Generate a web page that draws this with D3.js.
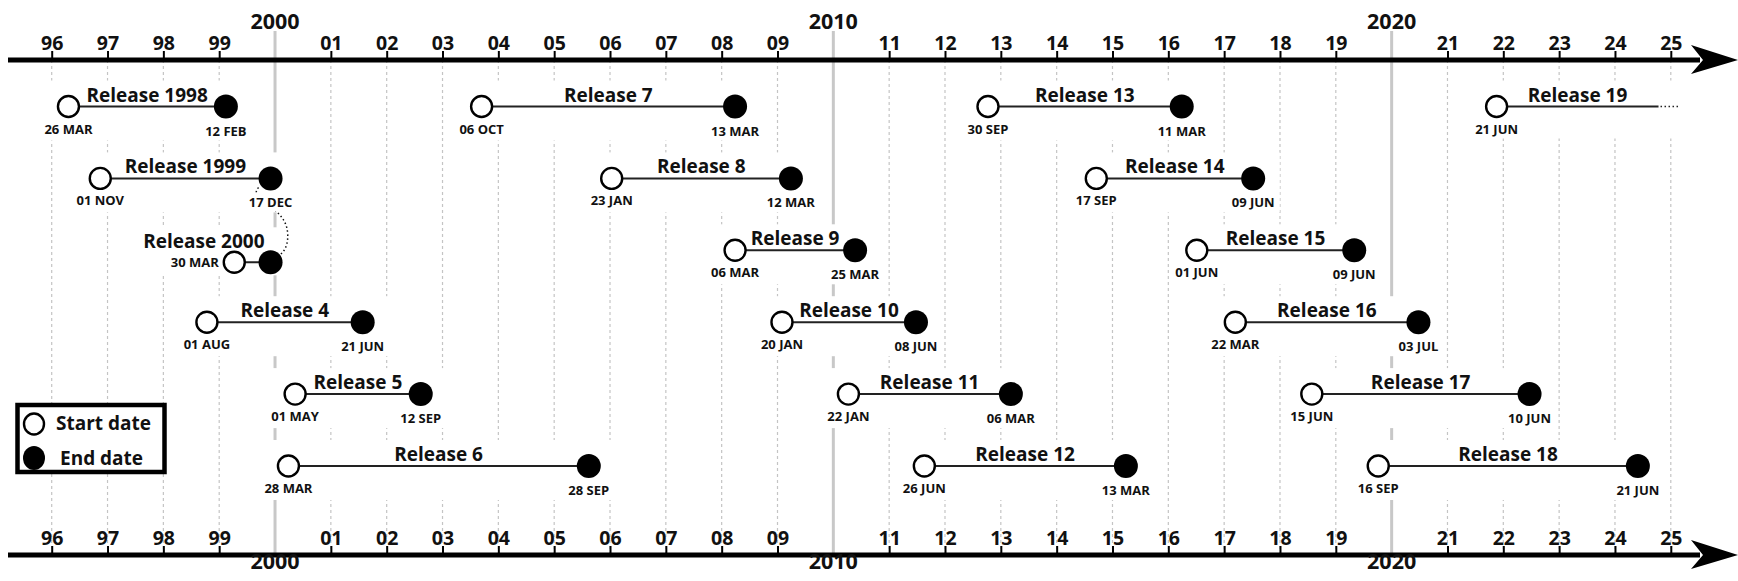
<!DOCTYPE html>
<html>
<head>
<meta charset="utf-8">
<script src="https://cdn.jsdelivr.net/npm/d3@7"></script>
<style>
  body { margin: 0; background: #fff; }
  svg { display: block; font-family: "Open Sans", Lato, sans-serif; font-weight: bold; }
</style>
</head>
<body>
<script>
const width = 1738, height = 581;

// year ticks on both axes
const years = d3.range(1996, 2026);
const decades = [2000, 2010, 2020];

// releases, positions
const releaseNames = ["Release 1998", "Release 1999", "Release 2000", "Release 4", "Release 5", "Release 6",
  "Release 7", "Release 8", "Release 9", "Release 10", "Release 11", "Release 12",
  "Release 13", "Release 14", "Release 15", "Release 16", "Release 17", "Release 18", "Release 19"];
const startYears = [1996.30, 1996.87, 1999.27, 1998.78, 2000.36, 2000.24,
  2003.70, 2006.03, 2008.24, 2009.08, 2010.27, 2011.63,
  2012.77, 2014.71, 2016.51, 2017.20, 2018.57, 2019.76, 2021.88];
const endYears = [1999.12, 1999.92, 1999.92, 2001.57, 2002.61, 2005.62,
  2008.24, 2009.24, 2010.39, 2011.48, 2013.18, 2015.24,
  2016.24, 2017.52, 2019.33, 2020.48, 2022.47, 2024.41, 2024.78];
const startLabels = ["26 MAR", "01 NOV", "30 MAR", "01 AUG", "01 MAY", "28 MAR",
  "06 OCT", "23 JAN", "06 MAR", "20 JAN", "22 JAN", "26 JUN",
  "30 SEP", "17 SEP", "01 JUN", "22 MAR", "15 JUN", "16 SEP", "21 JUN"];
const endLabels = ["12 FEB", "17 DEC", null, "21 JUN", "12 SEP", "28 SEP",
  "13 MAR", "12 MAR", "25 MAR", "08 JUN", "06 MAR", "13 MAR",
  "11 MAR", "09 JUN", "09 JUN", "03 JUL", "10 JUN", "21 JUN", null];
const lanes = [0, 1, 2, 3, 4, 5, 0, 1, 2, 3, 4, 5, 0, 1, 2, 3, 4, 5, 0];
const ongoing = [false, false, false, false, false, false, false, false, false, false,
  false, false, false, false, false, false, false, false, true];

const legendLabels = ["Start date", "End date"];

const releases = releaseNames.map((name, i) => ({
  name: name, start: startYears[i], end: endYears[i],
  startLabel: startLabels[i], endLabel: endLabels[i],
  lane: lanes[i], ongoing: ongoing[i]
}));

const x = d3.scaleLinear().domain([1996, 2025]).range([51.7, 1670.8]);
const y = d3.scaleLinear().domain([0, 5]).range([106.5, 466]);

const topY = 60, bottomY = 555;
const rStart = 10.5, rEnd = 12;
const ink = "#111";

const svg = d3.select("body").append("svg")
    .attr("width", width)
    .attr("height", height);

// grid: dashed yearly lines, solid grey decade lines
const grid = svg.append("g");
grid.selectAll("line.year")
  .data(years.filter(d => !decades.includes(d)))
  .join("line")
    .attr("x1", d => x(d)).attr("x2", d => x(d))
    .attr("y1", topY).attr("y2", bottomY)
    .attr("stroke", "#c4c4c4")
    .attr("stroke-width", 1.2)
    .attr("stroke-dasharray", "3,3");
grid.selectAll("line.decade")
  .data(decades)
  .join("line")
    .attr("x1", d => x(d)).attr("x2", d => x(d))
    .attr("y1", 31).attr("y2", bottomY)
    .attr("stroke", "#c8c8c8")
    .attr("stroke-width", 3);

const boxLayer = svg.append("g");
const connLayer = svg.append("g");
const markLayer = svg.append("g");

// axes
const twoDigit = d => d3.format("02d")(d % 100);
const plainYears = years.filter(d => !decades.includes(d));

function drawAxis(yPos, top) {
  const ax = d3.axisTop(x)
      .tickValues(plainYears)
      .tickSize(9)
      .tickPadding(1)
      .tickFormat(twoDigit);
  const g = svg.append("g").attr("transform", `translate(0,${yPos})`).call(ax);
  g.select(".domain").remove();
  g.selectAll(".tick line").attr("stroke", "#000").attr("stroke-width", 2);
  g.selectAll(".tick text")
    .attr("font-family", "'Open Sans', sans-serif")
    .attr("font-weight", "bold")
    .attr("font-size", 19.5)
    .attr("fill", ink);

  svg.append("line")
    .attr("x1", 8).attr("x2", 1700)
    .attr("y1", yPos).attr("y2", yPos)
    .attr("stroke", "#000")
    .attr("stroke-width", 5);
  svg.append("path")
    .attr("d", `M1691,${yPos - 15} L1738,${yPos} L1691,${yPos + 14} L1703,${yPos} Z`)
    .attr("fill", "#000");

  svg.append("g").selectAll("text")
    .data(decades)
    .join("text")
      .attr("x", d => x(d))
      .attr("y", top ? yPos - 31 : yPos + 14)
      .attr("text-anchor", "middle")
      .attr("font-size", 21.5)
      .attr("fill", ink)
      .text(d => d);
}
drawAxis(topY, true);
drawAxis(bottomY, false);

// releases
const groups = markLayer.selectAll("g.release")
  .data(releases)
  .join("g")
    .attr("class", "release");

groups.each(function(d) {
  const g = d3.select(this);
  const compact = d.end - d.start < 1;
  const cy = y(d.lane) + (compact ? 12 : 0);
  const xs = x(d.start), xe = x(d.end);
  d.cy = cy;

  g.append("line")
    .attr("x1", xs).attr("x2", xe)
    .attr("y1", cy).attr("y2", cy)
    .attr("stroke", "#222")
    .attr("stroke-width", 2);

  if (d.ongoing) {
    g.append("line")
      .attr("x1", xe + 2).attr("x2", xe + 20)
      .attr("y1", cy).attr("y2", cy)
      .attr("stroke", "#222")
      .attr("stroke-width", 1.5)
      .attr("stroke-dasharray", "1.5,2.5");
  } else {
    g.append("circle")
      .attr("cx", xe).attr("cy", cy).attr("r", rEnd)
      .attr("fill", "#000");
  }
  g.append("circle")
    .attr("cx", xs).attr("cy", cy).attr("r", rStart)
    .attr("fill", "#fff")
    .attr("stroke", "#000")
    .attr("stroke-width", 2.4);

  g.append("text")
    .attr("x", compact ? xe - 6 : (xs + xe) / 2)
    .attr("y", compact ? cy - 14 : cy - 5)
    .attr("text-anchor", compact ? "end" : "middle")
    .attr("font-size", 19)
    .attr("fill", ink)
    .text(d.name);

  const dates = [];
  dates.push(g.append("text")
    .attr("x", compact ? xs - rStart - 5 : xs)
    .attr("y", compact ? cy + 5 : cy + 27)
    .attr("text-anchor", compact ? "end" : "middle")
    .attr("font-size", 13)
    .attr("fill", ink)
    .text(d.startLabel));
  if (d.endLabel) {
    dates.push(g.append("text")
      .attr("x", xe)
      .attr("y", cy + 29)
      .attr("text-anchor", "middle")
      .attr("font-size", 13)
      .attr("fill", ink)
      .text(d.endLabel));
  }
  // white patch behind date labels so connectors pass underneath
  dates.forEach(t => {
    const b = t.node().getBBox();
    g.insert("rect", () => t.node())
      .attr("x", b.x - 1).attr("y", b.y)
      .attr("width", b.width + 2).attr("height", b.height)
      .attr("fill", "#fff");
  });

  // white box hiding the grid behind each release
  const bb = this.getBBox();
  boxLayer.append("rect")
    .attr("x", bb.x - 4).attr("y", bb.y - 1)
    .attr("width", bb.width + 8).attr("height", bb.height + 2)
    .attr("fill", "#fff");
});

// dotted connector between releases sharing an end date
releases.forEach((a, i) => {
  releases.forEach((b, j) => {
    if (j <= i || a.end !== b.end || a.ongoing || b.ongoing) return;
    const xa = x(a.end), ya = a.cy, yb = b.cy;
    const p = d3.path();
    p.moveTo(xa - 12, ya + 9);
    p.bezierCurveTo(xa - 24, ya + 22, xa + 15, ya + 27, xa + 17, ya + 54);
    p.bezierCurveTo(xa + 18, yb - 20, xa + 15, yb - 12, xa + 10, yb - 8);
    connLayer.append("path")
      .attr("d", p.toString())
      .attr("fill", "none")
      .attr("stroke", ink)
      .attr("stroke-width", 1.5)
      .attr("stroke-dasharray", "1.5,2.5");
  });
});

// legend
const legend = svg.append("g");
legend.append("rect")
  .attr("x", 17.5).attr("y", 405)
  .attr("width", 147).attr("height", 67)
  .attr("fill", "#fff")
  .attr("stroke", "#000")
  .attr("stroke-width", 4.5);
legend.append("ellipse")
  .attr("cx", 34).attr("cy", 424).attr("rx", 10).attr("ry", 10.5)
  .attr("fill", "#fff").attr("stroke", "#000").attr("stroke-width", 2.4);
legend.append("ellipse")
  .attr("cx", 34).attr("cy", 458).attr("rx", 11).attr("ry", 12)
  .attr("fill", "#000");
legend.selectAll("text")
  .data(legendLabels)
  .join("text")
    .attr("x", (d, i) => i === 0 ? 56 : 60)
    .attr("y", (d, i) => i === 0 ? 430 : 465)
    .attr("font-size", 19)
    .attr("fill", ink)
    .text(d => d);
</script>
</body>
</html>
